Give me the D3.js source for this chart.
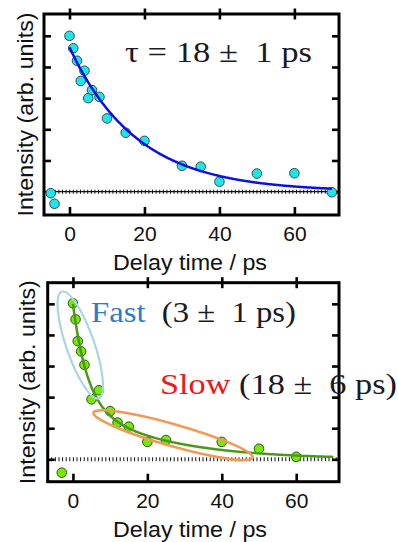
<!DOCTYPE html>
<html>
<head>
<meta charset="utf-8">
<script src="https://cdn.jsdelivr.net/npm/d3@7"></script>
<style>
  body { margin: 0; background: #fff; }
  text { fill: #111; }
</style>
</head>
<body>
<svg id="chart"></svg>
<script>
// ---- data ----
// upper panel
const topDelay = [-5, -4, 0, 1, 2, 3, 4, 5, 6, 8, 10, 15, 20, 30, 35, 40, 50, 60, 70];
const topIntensity = [-0.05, -0.39, 5.0, 4.6, 4.2, 3.55, 3.88, 3.0, 3.26, 3.04, 2.35, 1.89, 1.63, 0.83, 0.8, 0.32, 0.58, 0.59, -0.02];
// lower panel
const botDelay = [-3, 0, 0.7, 1.3, 2.2, 3.1, 5, 7, 10, 12, 15, 20, 25, 40, 50, 60];
const botIntensity = [-0.43, 5.02, 4.5, 3.8, 3.47, 3.04, 1.93, 2.22, 1.55, 1.18, 1.05, 0.56, 0.62, 0.56, 0.34, 0.08];

const xTicks = [0, 20, 40, 60];
const yTicks = [0, 1, 2, 3, 4, 5];

// fit parameters (single exp / double exp)
const topFit = { amp: 4.63, tau: 18 };
const botFit = { amp1: 3.15, tau1: 3.8, amp2: 1.85, tau2: 22 };
const fitRange = [0, 70];

const width = 398, height = 542;
const svg = d3.select("#chart").attr("width", width).attr("height", height);
const sans = "Liberation Sans, Arial, sans-serif";
const serif = "Liberation Serif, Times New Roman, serif";

function drawPanel(p) {
  const x = d3.scaleLinear().domain(p.xDomain).range([p.left, p.right]);
  const y = d3.scaleLinear().domain(p.yDomain).range([p.bottom, p.top]);
  const g = svg.append("g");

  // zero line, dotted
  if (p.zeroSolid) {
    g.append("line")
      .attr("x1", p.left).attr("x2", p.right)
      .attr("y1", y(0)).attr("y2", y(0))
      .attr("stroke", "#111").attr("stroke-width", 1.4);
  }
  g.append("line")
    .attr("x1", p.left).attr("x2", p.right)
    .attr("y1", y(0)).attr("y2", y(0))
    .attr("stroke", "#111").attr("stroke-width", 4)
    .attr("stroke-dasharray", "1 2.6");

  // axes
  const bottomAx = g.append("g")
    .attr("transform", `translate(0,${p.bottom})`)
    .call(d3.axisBottom(x).tickValues(xTicks).tickSize(-8).tickPadding(11));
  bottomAx.selectAll("text")
    .style("font-family", sans)
    .style("font-size", "21px").style("fill", "#111");

  g.append("g").attr("transform", `translate(0,${p.top})`)
    .call(d3.axisTop(x).tickValues(xTicks).tickSize(5.5).tickFormat(""));
  g.append("g").attr("transform", `translate(0,${p.top})`)
    .call(d3.axisTop(x).tickValues(xTicks).tickSize(-5.5).tickFormat(""));
  g.append("g").attr("transform", `translate(${p.left},0)`)
    .call(d3.axisLeft(y).tickValues(yTicks).tickSize(-7).tickFormat(""));
  g.append("g").attr("transform", `translate(${p.right},0)`)
    .call(d3.axisRight(y).tickValues(yTicks).tickSize(-7).tickFormat(""));

  g.selectAll(".domain").remove();
  g.selectAll(".tick line").attr("stroke", "#000").attr("stroke-width", 2.6);

  g.append("rect")
    .attr("x", p.left).attr("y", p.top)
    .attr("width", p.right - p.left).attr("height", p.bottom - p.top)
    .attr("fill", "none").attr("stroke", "#000").attr("stroke-width", 3);

  // axis titles
  g.append("text")
    .attr("x", 190 - 77).attr("y", p.bottom + 55)
    .attr("textLength", 154).attr("lengthAdjust", "spacingAndGlyphs")
    .style("font-family", sans)
    .style("font-size", "22px")
    .text("Delay time / ps");
  g.append("text")
    .attr("transform", `translate(${p.labelX},${(p.top + p.bottom) / 2}) rotate(-90)`)
    .attr("x", -102)
    .attr("textLength", 204).attr("lengthAdjust", "spacingAndGlyphs")
    .style("font-family", sans)
    .style("font-size", "22px")
    .text("Intensity (arb. units)");

  // points
  const pts = p.delay.map((d, i) => ({ t: d, v: p.intensity[i] }));
  g.append("g").selectAll("circle")
    .data(pts)
    .join("circle")
    .attr("cx", d => x(d.t))
    .attr("cy", d => y(d.v))
    .attr("r", 4.8)
    .attr("fill", p.fill)
    .attr("stroke", p.edge)
    .attr("stroke-width", 1);

  // fit curve
  const ts = d3.range(fitRange[0], fitRange[1] + 0.01, 0.25);
  const line = d3.line().x(t => x(t)).y(t => y(p.fit(t)));
  g.append("path")
    .attr("d", line(ts))
    .attr("fill", "none")
    .attr("stroke", p.curveColor)
    .attr("stroke-width", 2.5);

  return { g, x, y };
}

// upper panel
const upper = drawPanel({
  left: 44, right: 339, top: 14, bottom: 215, labelX: 33,
  xDomain: [-6.8, 71.9], yDomain: [-0.75, 5.7],
  delay: topDelay, intensity: topIntensity,
  fill: "#1de6ea", edge: "#3a4a4a",
  curveColor: "#0a10e6", zeroSolid: true,
  fit: t => topFit.amp * Math.exp(-t / topFit.tau)
});

upper.g.append("text")
  .attr("x", 125).attr("y", 62)
  .attr("xml:space", "preserve")
  .attr("textLength", 187).attr("lengthAdjust", "spacingAndGlyphs")
  .style("font-family", serif)
  .style("font-size", "30px")
  .style("fill", "#1a1a22")
  .text("\u03c4 = 18 \u00b1 \u00a01 ps");

// lower panel
const lower = drawPanel({
  left: 47.7, right: 339, top: 282.7, bottom: 481.7, labelX: 35,
  xDomain: [-6.78, 71.5], yDomain: [-0.72, 5.68],
  delay: botDelay, intensity: botIntensity,
  fill: "#78e80a", edge: "#2d5a10",
  curveColor: "#4a9a1a", zeroSolid: false,
  fit: t => botFit.amp1 * Math.exp(-t / botFit.tau1) + botFit.amp2 * Math.exp(-t / botFit.tau2)
});

// group ellipses, given by the two ends of the long axis (data units)
const fastEnds = [[-2.98, 5.39], [6.94, 1.96]];
const slowEnds = [[5.5, 1.5], [48.3, 0.05]];

function ringAround(panel, ends, halfWidth, color, sw) {
  const [a, b] = ends.map(e => [panel.x(e[0]), panel.y(e[1])]);
  const cx = (a[0] + b[0]) / 2, cy = (a[1] + b[1]) / 2;
  const ang = Math.atan2(b[1] - a[1], b[0] - a[0]) * 180 / Math.PI;
  panel.g.append("ellipse")
    .attr("cx", cx).attr("cy", cy)
    .attr("rx", Math.hypot(b[0] - a[0], b[1] - a[1]) / 2)
    .attr("ry", halfWidth)
    .attr("transform", `rotate(${ang},${cx},${cy})`)
    .attr("fill", "none")
    .attr("stroke", color)
    .attr("stroke-width", sw);
}
ringAround(lower, fastEnds, 14, "#a9d6e2", 2.2);
ringAround(lower, slowEnds, 11, "#f29a55", 2.6);

const fastLabel = lower.g.append("text")
  .attr("x", 91).attr("y", 321.5)
  .attr("xml:space", "preserve")
  .attr("textLength", 205).attr("lengthAdjust", "spacingAndGlyphs")
  .style("font-family", serif).style("font-size", "30px");
fastLabel.append("tspan").style("fill", "#2f7cc6").text("Fast");
fastLabel.append("tspan").style("fill", "#1a1a22").text("  (3 \u00b1 \u00a01 ps)");

const slowLabel = lower.g.append("text")
  .attr("x", 160).attr("y", 393.5)
  .attr("xml:space", "preserve")
  .attr("textLength", 237).attr("lengthAdjust", "spacingAndGlyphs")
  .style("font-family", serif).style("font-size", "30px");
slowLabel.append("tspan").style("fill", "#f21616").text("Slow");
slowLabel.append("tspan").style("fill", "#1a1a22").text(" (18 \u00b1 \u00a06 ps)");
</script>
</body>
</html>
